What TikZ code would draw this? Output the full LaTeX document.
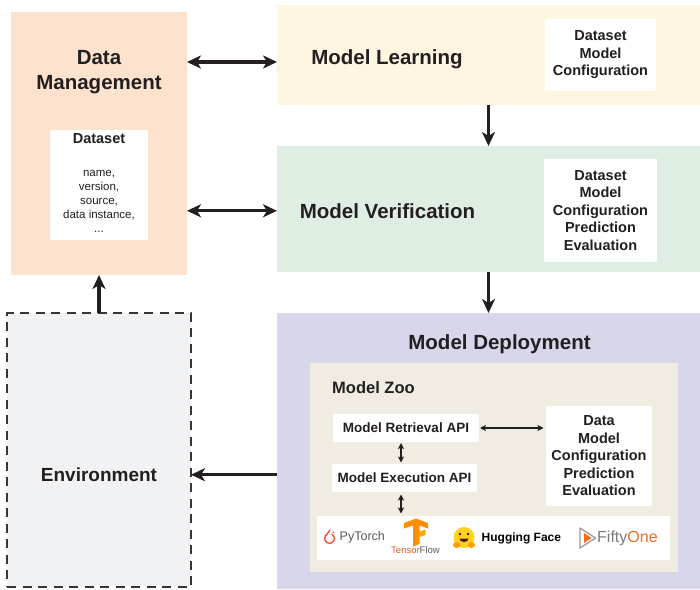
\documentclass[tikz,border=0pt]{standalone}
\usepackage{fontspec}
\setmainfont{Liberation Sans}
\usetikzlibrary{arrows.meta,positioning}

\definecolor{dmpeach}{RGB}{253,227,205}
\definecolor{mlcream}{RGB}{255,246,225}
\definecolor{mvmint}{RGB}{222,238,227}
\definecolor{mdlav}{RGB}{216,214,234}
\definecolor{zoobeige}{RGB}{240,236,226}
\definecolor{envgray}{RGB}{241,242,244}
\definecolor{inkdark}{RGB}{35,31,32}
\definecolor{ptorange}{RGB}{238,76,44}
\definecolor{tforange}{RGB}{255,143,0}
\definecolor{tfred}{RGB}{229,91,45}
\definecolor{hfyellow}{RGB}{255,210,30}
\definecolor{hforange}{RGB}{255,157,11}
\definecolor{foorange}{RGB}{243,108,33}
\definecolor{logogray}{RGB}{90,90,90}

\newcommand{\bigtitle}{\fontsize{20.5}{25}\selectfont\bfseries}
\newcommand{\boxtext}{\fontsize{14.5}{17.5}\selectfont\bfseries}
\newcommand{\apitext}{\fontsize{13.5}{16}\selectfont\bfseries}
\newcommand{\listtext}{\fontsize{11.5}{13.9}\selectfont}

\begin{document}
\begin{tikzpicture}[x=1pt,y=-1pt,
	every node/.style={text=inkdark},
	panel/.style={rectangle,inner sep=0pt,outer sep=0pt},
	whitebox/.style={panel,fill=white,align=center,font=\boxtext},
	apibox/.style={panel,fill=white,font=\apitext,minimum height=28pt},
	title/.style={font=\bigtitle,align=center},
	bigarrow/.style={line width=3.3pt,draw=inkdark,-{Stealth[length=14pt,width=13pt,inset=4pt]}},
	bigboth/.style={bigarrow,{Stealth[length=14pt,width=13pt,inset=4pt]}-{Stealth[length=14pt,width=13pt,inset=4pt]}},
	smallboth/.style={line width=1.2pt,draw=inkdark,{Stealth[length=6pt,width=6pt,inset=1.5pt]}-{Stealth[length=6pt,width=6pt,inset=1.5pt]}}]
	   \useasboundingbox (0,0) rectangle (700,589);
	   % panels
	   \node[panel,fill=dmpeach,minimum width=176pt,minimum height=263pt] (dm) at (99,143.5) {};
	   \node[panel,fill=mlcream,minimum width=423pt,minimum height=100pt] (ml) at (488.5,55) {};
	   \node[panel,fill=mvmint,minimum width=423pt,minimum height=126pt] (mv) at (488.5,209) {};
	   \node[panel,fill=mdlav,minimum width=423pt,minimum height=276pt] (md) at (488.5,451) {};
	   \node[panel,fill=envgray,draw=inkdark!90,line width=1.8pt,dash pattern=on 9pt off 6.5pt,minimum width=184pt,minimum height=274pt] (env) at (99,450) {};
	   % titles
	   \node[title] (dmtitle) at (99,72.2) {Data\\Management};
	   \node[title] (mltitle) at (387,59.7) {Model Learning};
	   \node[title] (mvtitle) at (387.5,210.8) {Model Verification};
	   \node[title] (mdtitle) at (499.5,344.4) {Model Deployment};
	   \node[font=\fontsize{19}{23}\selectfont\bfseries] (envtitle) at (99,474.7) {Environment};
	   % dataset card
	   \node[panel,fill=white,minimum width=98pt,minimum height=110pt] (dataset) at (99,185) {};
	   \node[font=\boxtext] (dstitle) at (99,138.7) {Dataset};
	   \node[font=\listtext,align=center] (dslist) at (99,201.3) {name,\\version,\\source,\\data instance,\\...};
	   % artefact cards
	   \node[whitebox,minimum width=111pt,minimum height=72pt] (mlinfo) at (600.5,55) {Dataset\\Model\\Configuration};
	   \node[whitebox,minimum width=113pt,minimum height=103pt] (mvinfo) at (600.5,210.5) {Dataset\\Model\\Configuration\\Prediction\\Evaluation};
	   % model zoo
	   \node[panel,fill=zoobeige,minimum width=368pt,minimum height=209pt] (zoo) at (494,467.5) {};
	   \node[font=\fontsize{16.5}{20}\selectfont\bfseries,anchor=west,inner sep=0pt] (zootitle) at ([xshift=22pt,yshift=-24.5pt]zoo.north west) {Model Zoo};
	   \node[apibox,minimum width=146pt] (retrieval) at (406,428) {Model Retrieval API};
	   \node[apibox,minimum width=145pt] (execution) at (404.5,478) {Model Execution API};
	   \node[whitebox,minimum width=106pt,minimum height=100pt] (zooinfo) at (599,456) {Data\\Model\\Configuration\\Prediction\\Evaluation};
	   % frameworks strip
	   \node[panel,fill=white,minimum width=353pt,minimum height=44pt] (logos) at (493.5,538) {};
	   \draw[ptorange,line width=1.3pt] (332,534.1) arc[start angle=-60,end angle=240,radius=5];
	   \draw[ptorange,line width=1.3pt,line cap=round] (327,534.1) -- (330,530);
	   \fill[ptorange] (333.3,532.3) circle[radius=0.9];
	   \node[text=logogray,font=\fontsize{12.5}{14}\selectfont,anchor=west,inner sep=0pt] (pytorch) at (339.5,537) {PyTorch};
	   \fill[tforange] (404,523) -- (416,518.5) -- (428,523) -- (428,528.5) -- (419.5,525.5) -- (419.5,544) -- (413,546.5) -- (413,525.5) -- (404,528.5) -- cycle;
	   \fill[tforange!75!yellow] (419.5,531.5) -- (425.5,529.5) -- (425.5,535) -- (419.5,537) -- cycle;
	   \node[font=\fontsize{9.5}{11}\selectfont,inner sep=0pt] (tensorflow) at (415.5,550.5) {\textcolor{tfred}{Tensor}\textcolor{logogray}{Flow}};
	   \fill[hfyellow] (464,537.5) circle[radius=10.5];
	   \fill[inkdark] (460,534) circle[radius=1.3] (468,534) circle[radius=1.3];
	   \fill[inkdark!80!red] (459.5,538.5) arc[start angle=180,end angle=0,x radius=4.5,y radius=3.5] -- cycle;
	   \fill[hforange] (456.5,545) ellipse[x radius=3.5,y radius=3] (471.5,545) ellipse[x radius=3.5,y radius=3];
	   \node[text=black,font=\fontsize{12}{14}\selectfont\bfseries,anchor=west,inner sep=0pt] (huggingface) at (481.5,538) {Hugging Face};
	   \draw[logogray!60,line width=1.3pt,line join=round] (580,528) -- (595.5,538) -- (580,548) -- cycle;
	   \fill[foorange] (584,533) -- (591.5,538) -- (584,543) -- cycle;
	   \node[font=\fontsize{16}{18}\selectfont,anchor=west,inner sep=0pt] (fiftyone) at (597,538) {\textcolor{logogray!80}{Fifty}\textcolor{foorange}{One}};
	   % connectors
	   \path ([yshift=-7pt]ml.west) coordinate (mlin);
	   \draw[bigboth] (dm.east |- mlin) -- (mlin);
	   \draw[bigboth] (dm.east |- mvtitle) -- (mv.west |- mvtitle);
	   \draw[bigarrow] (ml.south) -- (mv.north);
	   \draw[bigarrow] (mv.south) -- (md.north);
	   \draw[bigarrow] (env.north) -- (dm.south);
	   \draw[bigarrow] (md.west |- envtitle) -- (env.east |- envtitle);
	   \draw[smallboth,shorten <=1pt,shorten >=2.5pt] (retrieval.east) -- (retrieval.east -| zooinfo.west);
	   \path ([xshift=-5pt]retrieval.south) coordinate (apitop);
	   \draw[smallboth,shorten <=1pt,shorten >=1.5pt] (apitop) -- (apitop |- execution.north);
	   \draw[smallboth,shorten <=2.5pt,shorten >=2.5pt] (apitop |- execution.south) -- (apitop |- logos.north);
\end{tikzpicture}
\end{document}
